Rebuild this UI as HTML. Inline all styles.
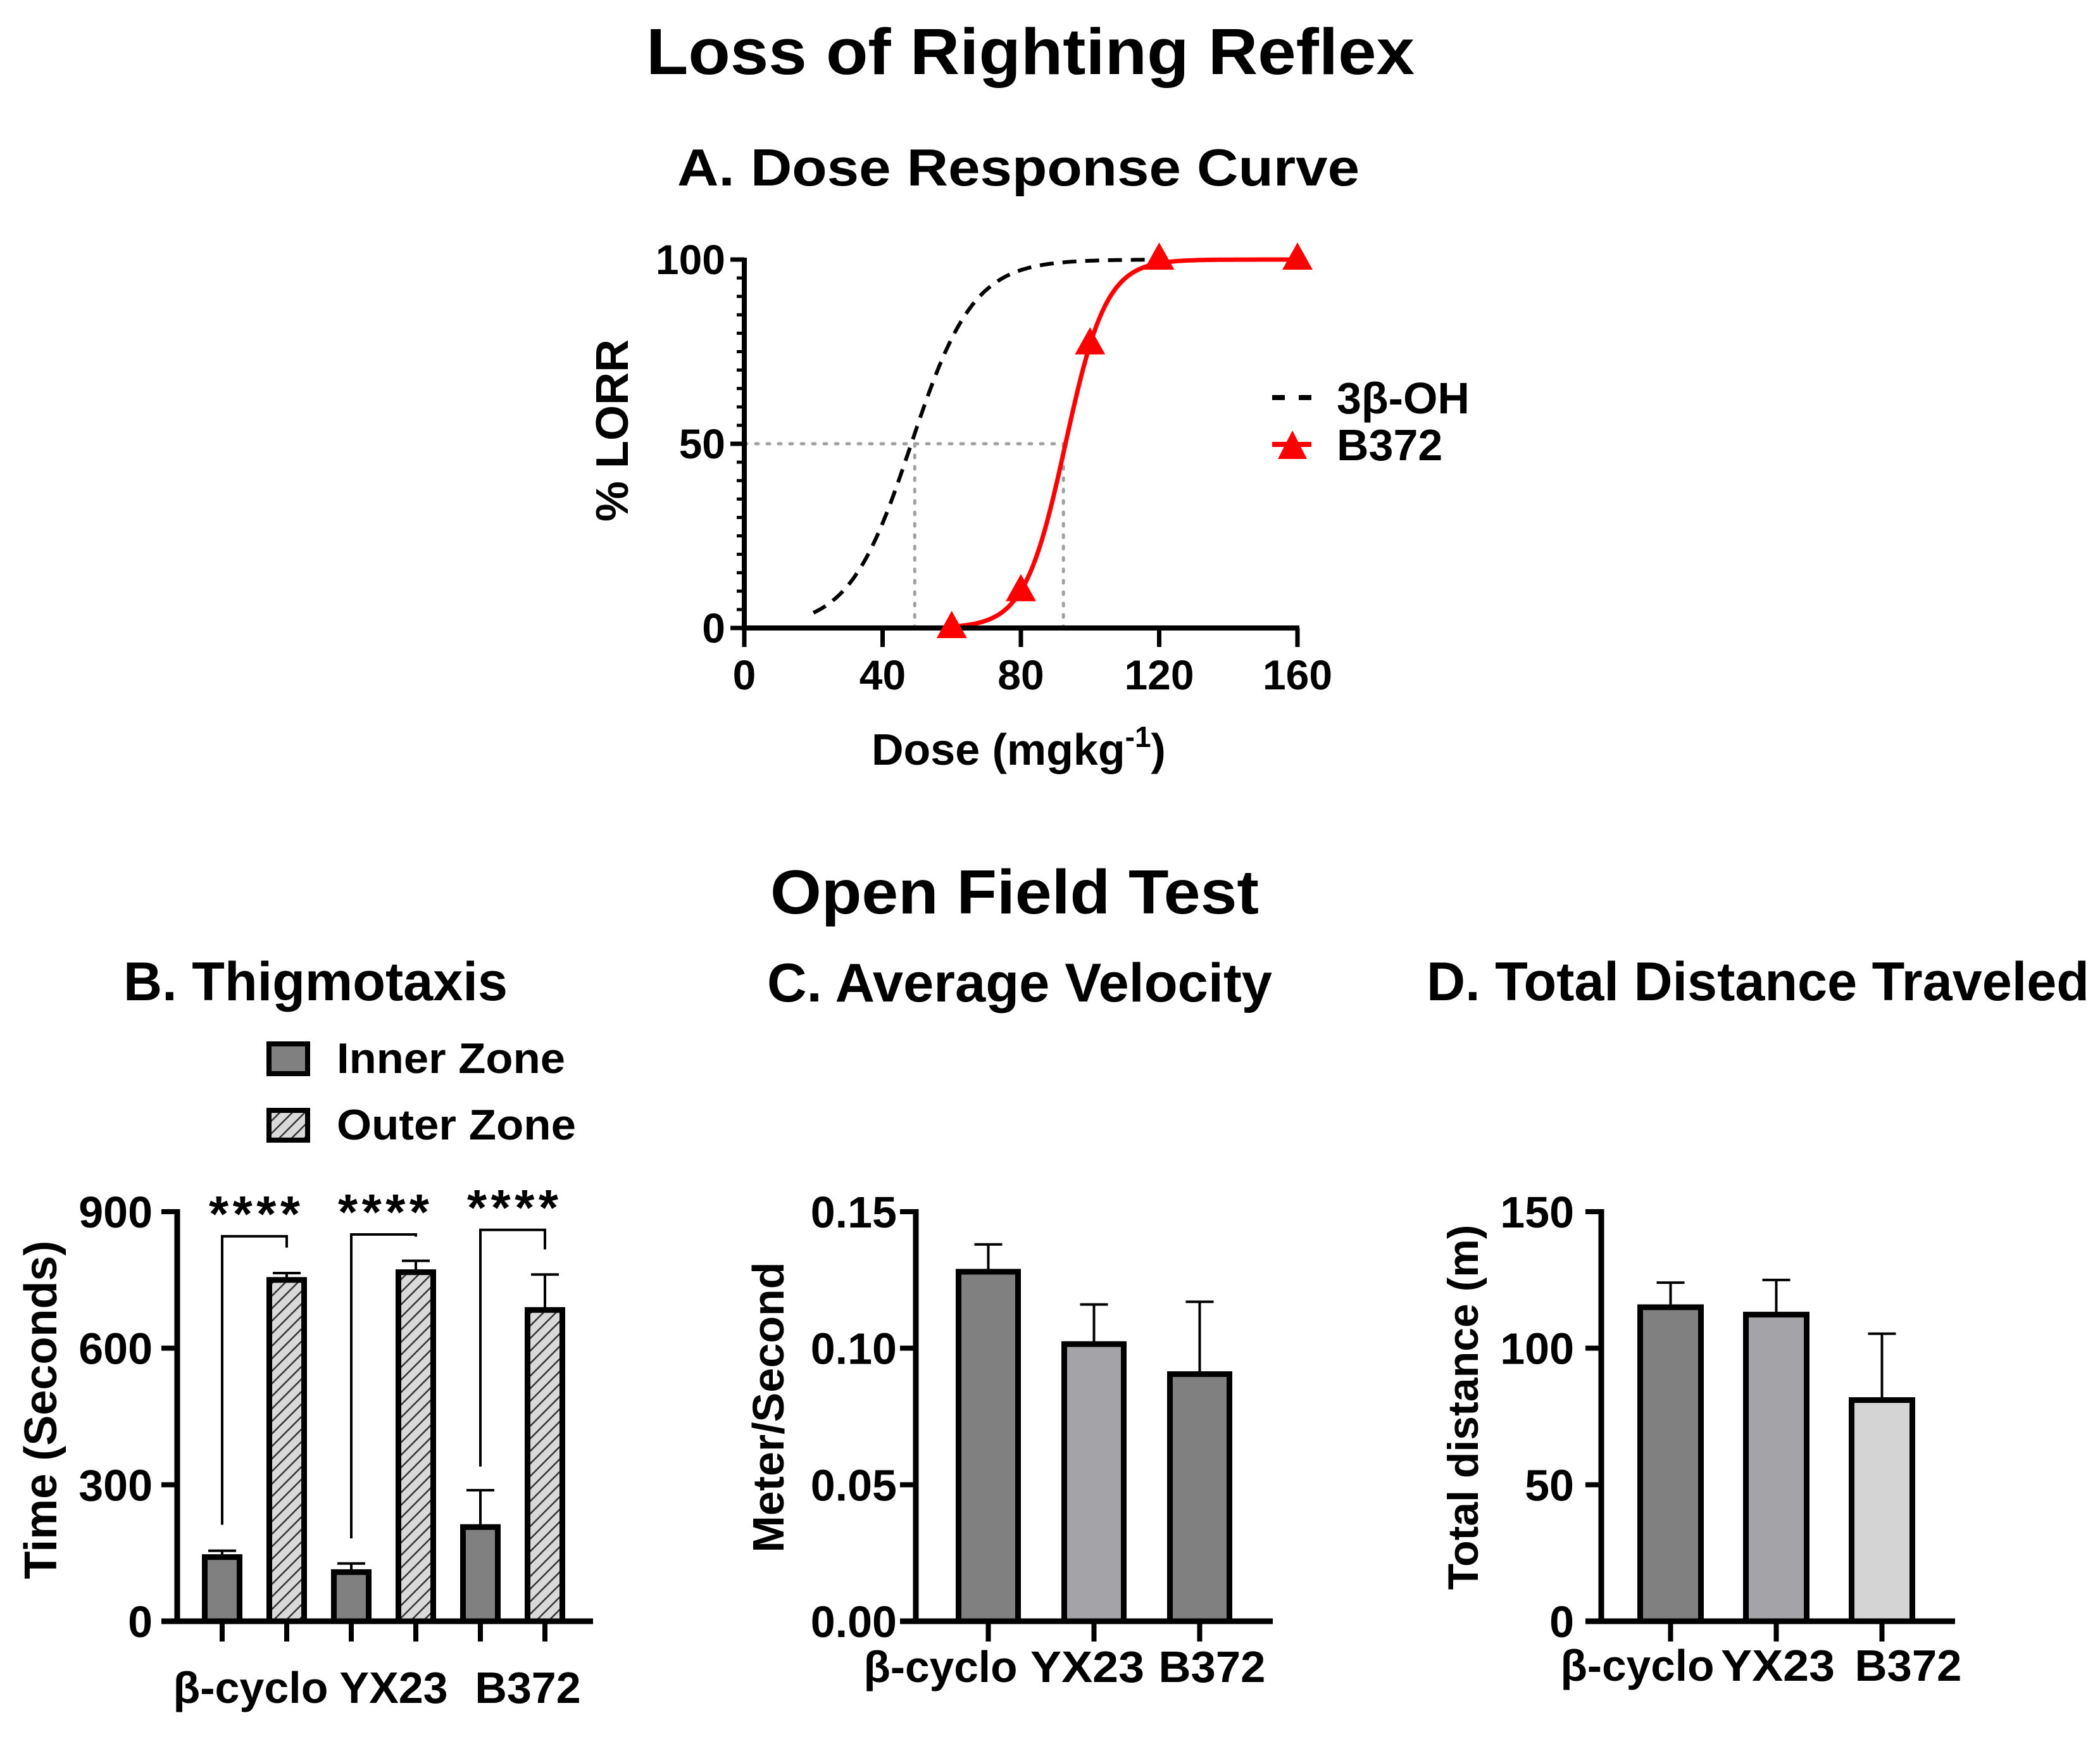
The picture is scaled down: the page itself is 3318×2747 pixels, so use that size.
<!DOCTYPE html>
<html><head><meta charset="utf-8">
<style>
html,body{margin:0;padding:0;background:#fff;}
svg{display:block;font-family:"Liberation Sans",Arial,sans-serif;font-weight:bold;}
</style></head>
<body>
<svg id="fig" xmlns="http://www.w3.org/2000/svg" width="3318" height="2747" viewBox="0 0 3318 2747">
<defs>
<pattern id="hatch" patternUnits="userSpaceOnUse" width="14" height="14" patternTransform="rotate(45)">
<rect width="14" height="14" fill="#d9d9d9"/>
<line x1="0" y1="0" x2="0" y2="14" stroke="#333" stroke-width="5"/>
</pattern>
</defs>
<rect width="3318" height="2747" fill="#fff"/>
<text x="1021" y="117" font-size="103" textLength="1214" lengthAdjust="spacingAndGlyphs">Loss of  Righting  Reflex</text>
<text x="1070" y="293" font-size="83" textLength="1078" lengthAdjust="spacingAndGlyphs">A.  Dose  Response  Curve</text>
<text x="1217" y="1443" font-size="98" textLength="772" lengthAdjust="spacingAndGlyphs">Open Field Test</text>
<text x="195" y="1580" font-size="86" textLength="607" lengthAdjust="spacingAndGlyphs">B. Thigmotaxis</text>
<text x="1212" y="1582" font-size="86" textLength="798" lengthAdjust="spacingAndGlyphs">C.  Average Velocity</text>
<text x="2254" y="1580" font-size="86" textLength="1047" lengthAdjust="spacingAndGlyphs">D. Total Distance Traveled</text>
<g id="gA"></g>
<g id="gB"></g>
<g id="gC"></g>
<g id="gD"></g>
</svg>
<script>
// ---------- Panel A data ----------
const aXTicks = [0, 40, 80, 120, 160];
const aYTicks = [0, 50, 100];
const b372Doses = [60, 80, 100, 120, 160];
const b372Resp = [0, 10, 77, 100, 100];
const ohFit = [48.3, 9.0];      // midpoint, slope (logistic) for 3β-OH
const b372Fit = [92.9, 5.9];    // midpoint, slope for B372
const ohRange = [20, 120];
const b372Range = [60, 160];
const ed50s = [49.3, 92.3];

// ---------- Panel B data ----------
const bGroups = ["β-cyclo", "YX23", "B372"];
const innerVals = [141, 108, 207];
const innerErr = [155, 127, 288];
const outerVals = [750, 767, 684];
const outerErr = [765, 792, 762];
const bracketTop = [846, 850, 860];
const bracketLeft = [212, 182, 340];
const bracketRight = [821, 845, 817];
const bYTicks = [0, 300, 600, 900];

// ---------- Panel C data ----------
const cGroups = ["β-cyclo", "YX23", "B372"];
const velVals = [0.128, 0.1015, 0.0905];
const velErr = [0.138, 0.116, 0.117];
const cYTicks = ["0.00", "0.05", "0.10", "0.15"];

// ---------- Panel D data ----------
const dGroups = ["β-cyclo", "YX23", "B372"];
const distVals = [115, 112.3, 81];
const distErr = [124, 125, 105.3];
const dYTicks = [0, 50, 100, 150];

const NS = "http://www.w3.org/2000/svg";
function mk(parent, tag, attrs, txt) {
  const e = document.createElementNS(NS, tag);
  for (const k in attrs) e.setAttribute(k, attrs[k]);
  if (txt !== undefined) e.textContent = txt;
  parent.appendChild(e);
  return e;
}
const catLabelW = [243, 180, 169];

// ================= Panel A =================
(function () {
  const g = document.getElementById('gA');
  const x0 = 1176, x1 = 2050, y0 = 992, y1 = 410;
  const X = v => x0 + (v - 0) / 160 * (x1 - x0);
  const Y = v => y0 - v / 100 * (y0 - y1);
  const logi = (x, p) => 100 / (1 + Math.exp(-(x - p[0]) / p[1]));
  let e = mk(g, 'line', {x1: X(0), y1: Y(50), x2: X(ed50s[1]), y2: Y(50), stroke: '#a0a0a0', 'stroke-width': 5, 'stroke-dasharray': '4 14', 'stroke-linecap': 'round'});
  
  
  ed50s.forEach((d, i) => {
    const l = mk(g, 'line', {x1: X(d), y1: Y(50), x2: X(d), y2: Y(0), stroke: '#a0a0a0', 'stroke-width': 5, 'stroke-dasharray': '4 14', 'stroke-linecap': 'round'});
    
    
  });
  function curve(p, r) {
    let d = '';
    for (let x = r[0]; x <= r[1] + 1e-9; x += 0.5) d += (d ? 'L' : 'M') + X(x).toFixed(1) + ',' + Y(logi(x, p)).toFixed(1);
    return d;
  }
  e = mk(g, 'path', {d: curve(ohFit, ohRange), fill: 'none', stroke: '#000', 'stroke-width': 6, 'stroke-dasharray': '22 14'});
  
  
  e = mk(g, 'path', {d: curve(b372Fit, b372Range), fill: 'none', stroke: '#ff0000', 'stroke-width': 7});
  
  
  e = mk(g, 'line', {x1: x0, y1: y1 - 3, x2: x0, y2: y0 + 4, stroke: '#000', 'stroke-width': 8});
  
  
  e = mk(g, 'line', {x1: x0 - 4, y1: y0, x2: x1 + 3, y2: y0, stroke: '#000', 'stroke-width': 8});
  
  
  for (let v = 0; v <= 100; v += 5) {
    const major = aYTicks.indexOf(v) >= 0;
    const t = mk(g, 'line', {x1: x0 - (major ? 22 : 12), y1: Y(v), x2: x0, y2: Y(v), stroke: '#000', 'stroke-width': major ? 7 : 5});
    
    
  }
  aYTicks.forEach(v => {
    const t = mk(g, 'text', {x: x0 - 30, y: Y(v) + 23, 'font-size': 66, 'text-anchor': 'end'}, String(v));
    
    
  });
  aXTicks.forEach(v => {
    const t = mk(g, 'line', {x1: X(v), y1: y0, x2: X(v), y2: y0 + 30, stroke: '#000', 'stroke-width': 7});
    
    
    const l = mk(g, 'text', {x: X(v), y: y0 + 97, 'font-size': 66, 'text-anchor': 'middle'}, String(v));
    
    
  });
  b372Doses.forEach((d, i) => {
    const cx = X(d), cy = Y(b372Resp[i]);
    const m = mk(g, 'polygon', {points: `${cx},${cy - 27} ${cx - 24},${cy + 16} ${cx + 24},${cy + 16}`, fill: '#ff0000'});
    
    
  });
  e = mk(g, 'text', {x: 0, y: 0, 'font-size': 72, 'text-anchor': 'middle', transform: `translate(992,680) rotate(-90)`}, '% LORR');
  
  
  e = mk(g, 'text', {x: 1377, y: 1208, 'font-size': 70}, 'Dose (mgkg');
  
  
  mk(e, 'tspan', {dy: -28, 'font-size': 46}, '-1');
  mk(e, 'tspan', {dy: 28}, ')');
  e = mk(g, 'line', {x1: 2010, y1: 628, x2: 2072, y2: 628, stroke: '#000', 'stroke-width': 8, 'stroke-dasharray': '20 22'});
  
  
  e = mk(g, 'text', {x: 2112, y: 653, 'font-size': 70}, '3β-OH');
  
  
  e = mk(g, 'line', {x1: 2010, y1: 702, x2: 2072, y2: 702, stroke: '#ff0000', 'stroke-width': 8});
  
  
  e = mk(g, 'polygon', {points: '2042,680 2019,725 2065,725', fill: '#ff0000'});
  
  
  e = mk(g, 'text', {x: 2112, y: 727, 'font-size': 70}, 'B372');
  
  
})();

function barAxes(g, x0, xEnd, Y, ticks, tickVals, labelX) {
  let e = mk(g, 'line', {x1: x0, y1: Y(tickVals[tickVals.length - 1]) - 4, x2: x0, y2: Y(0) + 4, stroke: '#000', 'stroke-width': 9});
  
  
  e = mk(g, 'line', {x1: x0 - 25, y1: Y(0), x2: xEnd, y2: Y(0), stroke: '#000', 'stroke-width': 9});
  
  
  ticks.forEach((t, i) => {
    const yy = Y(tickVals[i]);
    const tk = mk(g, 'line', {x1: x0 - 25, y1: yy, x2: x0, y2: yy, stroke: '#000', 'stroke-width': 8});
    
    
    const lb = mk(g, 'text', {x: labelX, y: yy + 25, 'font-size': 70, 'text-anchor': 'end'}, String(t));
    
    
  });
}
function bar(g, x, w, yTop, yBot, fill, name) {
  const r = mk(g, 'rect', {x: x + 4.5, y: yTop, width: w - 9, height: yBot - yTop, fill: fill, stroke: '#000', 'stroke-width': 9});
  
  
}
function errBar(g, cx, yTop, yVal, name) {
  const p = mk(g, 'path', {d: `M${cx},${yVal} V${yTop} M${cx - 22},${yTop} H${cx + 22}`, stroke: '#000', 'stroke-width': 4, fill: 'none'});
  
  
}

// ================= Panel B =================
(function () {
  const g = document.getElementById('gB');
  const x0 = 280, y0 = 2561, yTop = 1914;
  const Y = v => y0 - v / 900 * (y0 - yTop);
  const groupStart = 319, groupStep = 204, bw = 64, off = 102;
  bGroups.forEach((name, i) => {
    const xi = groupStart + i * groupStep, xo = xi + off;
    const ci = xi + bw / 2, co = xo + bw / 2;
    errBar(g, ci, Y(innerErr[i]), Y(innerVals[i]), 'inner-error-bar');
    errBar(g, co, Y(outerErr[i]), Y(outerVals[i]), 'outer-error-bar');
    bar(g, xi, bw, Y(innerVals[i]), y0, '#808080', 'inner-zone-bar');
    bar(g, xo, bw, Y(outerVals[i]), y0, 'url(#hatch)', 'outer-zone-bar');
    [ci, co].forEach(c => {
      const t = mk(g, 'line', {x1: c, y1: y0, x2: c, y2: y0 + 32, stroke: '#000', 'stroke-width': 8});
      
      
    });
    const br = mk(g, 'path', {d: `M${ci},${Y(bracketLeft[i])} V${Y(bracketTop[i])} H${co} V${Y(bracketRight[i])}`, stroke: '#000', 'stroke-width': 4, fill: 'none'});
    
    
    const st = mk(g, 'text', {x: (ci + co) / 2, y: Y(bracketTop[i]) - 8, 'font-size': 80, 'text-anchor': 'middle', textLength: 144, lengthAdjust: 'spacing'}, '****');
    
    
  });
  barAxes(g, x0, 937, Y, bYTicks, bYTicks, 241);
  const labX = [396, 622, 834];
  bGroups.forEach((n, i) => {
    const t = mk(g, 'text', {x: labX[i], y: 2690, 'font-size': 70, 'text-anchor': 'middle'}, n);
    
    
  });
  let e = mk(g, 'text', {x: 0, y: 0, 'font-size': 72, 'text-anchor': 'middle', transform: 'translate(89,2227) rotate(-90)'}, 'Time  (Seconds)');
  
  
  e = mk(g, 'rect', {x: 425, y: 1649, width: 61, height: 47, fill: '#808080', stroke: '#000', 'stroke-width': 8});
  
  
  e = mk(g, 'text', {x: 532, y: 1695, 'font-size': 68, textLength: 361, lengthAdjust: 'spacingAndGlyphs'}, 'Inner Zone');
  
  
  e = mk(g, 'rect', {x: 425, y: 1754, width: 61, height: 47, fill: 'url(#hatch)', stroke: '#000', 'stroke-width': 8});
  
  
  e = mk(g, 'text', {x: 532, y: 1800, 'font-size': 68, textLength: 378, lengthAdjust: 'spacingAndGlyphs'}, 'Outer Zone');
  
  
})();

// ================= Panel C =================
(function () {
  const g = document.getElementById('gC');
  const x0 = 1447, y0 = 2561, yTop = 1914;
  const Y = v => y0 - v / 0.15 * (y0 - yTop);
  const fills = ['#808080', '#a4a4a8', '#808080'];
  const start = 1510, step = 167, bw = 103;
  const labX = [1486, 1718, 1915];
  cGroups.forEach((n, i) => {
    const x = start + i * step, c = x + bw / 2;
    errBar(g, c, Y(velErr[i]), Y(velVals[i]), 'velocity-error-bar');
    bar(g, x, bw, Y(velVals[i]), y0, fills[i], 'velocity-bar');
    const t = mk(g, 'line', {x1: c, y1: y0, x2: c, y2: y0 + 32, stroke: '#000', 'stroke-width': 8});
    
    
    const l = mk(g, 'text', {x: labX[i], y: 2657, 'font-size': 70, 'text-anchor': 'middle', textLength: catLabelW[i], lengthAdjust: 'spacingAndGlyphs'}, n);
    
    
  });
  barAxes(g, x0, 2011, Y, cYTicks, cYTicks.map(Number), 1417);
  const e = mk(g, 'text', {x: 0, y: 0, 'font-size': 70, 'text-anchor': 'middle', transform: 'translate(1238,2223) rotate(-90)'}, 'Meter/Second');
  
  
})();

// ================= Panel D =================
(function () {
  const g = document.getElementById('gD');
  const x0 = 2530, y0 = 2561, yTop = 1914;
  const Y = v => y0 - v / 150 * (y0 - yTop);
  const fills = ['#808080', '#a4a4a8', '#d4d4d4'];
  const start = 2587, step = 167, bw = 105;
  const labX = [2587, 2809, 3015];
  dGroups.forEach((n, i) => {
    const x = start + i * step, c = x + bw / 2;
    errBar(g, c, Y(distErr[i]), Y(distVals[i]), 'distance-error-bar');
    bar(g, x, bw, Y(distVals[i]), y0, fills[i], 'distance-bar');
    const t = mk(g, 'line', {x1: c, y1: y0, x2: c, y2: y0 + 32, stroke: '#000', 'stroke-width': 8});
    
    
    const l = mk(g, 'text', {x: labX[i], y: 2655, 'font-size': 70, 'text-anchor': 'middle', textLength: catLabelW[i], lengthAdjust: 'spacingAndGlyphs'}, n);
    
    
  });
  barAxes(g, x0, 3089, Y, dYTicks, dYTicks, 2487);
  const e = mk(g, 'text', {x: 0, y: 0, 'font-size': 68, 'text-anchor': 'middle', transform: 'translate(2335,2223) rotate(-90)'}, 'Total distance (m)');
  
  
})();
</script>
</body></html>
